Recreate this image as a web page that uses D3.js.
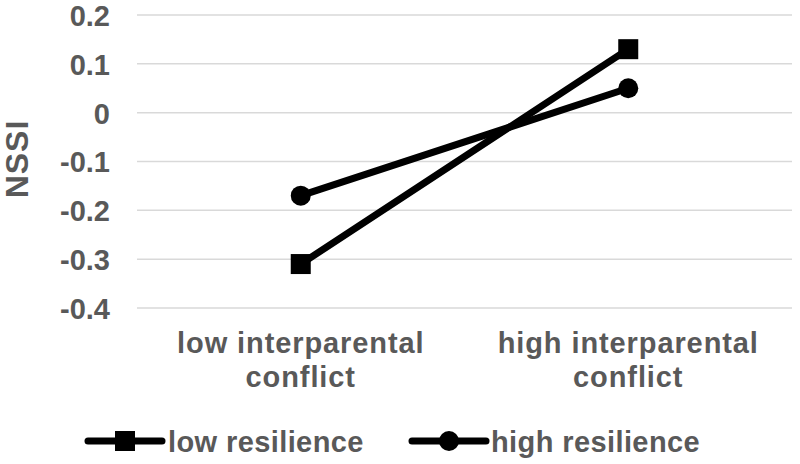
<!DOCTYPE html>
<html><head><meta charset="utf-8">
<script src="https://cdn.jsdelivr.net/npm/d3@7"></script>
<style>body{margin:0;background:#fff}svg{display:block}</style>
</head><body>
<svg id="c" width="800" height="464"></svg>
<script>
const categories = ["low interparental conflict", "high interparental conflict"];
const categoryLines = [["low interparental", "conflict"], ["high interparental", "conflict"]];
const seriesNames = ["low resilience", "high resilience"];
const lowResilience = [-0.31, 0.13];
const highResilience = [-0.17, 0.05];
const yTicks = [-0.4, -0.3, -0.2, -0.1, 0, 0.1, 0.2];
const yTickLabels = ["-0.4", "-0.3", "-0.2", "-0.1", "0", "0.1", "0.2"];

const svg = d3.select("#c");
const font = "'Liberation Sans', Arial, sans-serif";
const grey = "#595959";

const x = d3.scaleBand().domain(categories).range([137, 792]);
const y = d3.scaleLinear().domain([-0.4, 0.2]).range([308, 15]);

// gridlines
svg.append("g").selectAll("line").data(yTicks).join("line")
  .attr("x1", 137).attr("x2", 792)
  .attr("y1", d => y(d)).attr("y2", d => y(d))
  .attr("stroke", "#d9d9d9").attr("stroke-width", 1.5);

// y axis labels
const yAxis = d3.axisLeft(y).tickValues(yTicks).tickFormat((d, i) => yTickLabels[i]).tickSize(0).tickPadding(0);
const ya = svg.append("g").attr("transform", "translate(110,0)").call(yAxis);
ya.select(".domain").remove();
ya.selectAll("text").attr("font-family", font)
  .attr("font-size", 29).attr("font-weight", "bold").attr("fill", grey).attr("dy", "0.36em");

// y title
svg.append("text").attr("transform", "translate(28,159) rotate(-90)")
  .attr("text-anchor", "middle")
  .attr("font-family", font)
  .attr("font-size", 32).attr("font-weight", "bold").attr("fill", grey)
  .attr("letter-spacing", 1).text("NSSI");

// x axis labels
const cx = c => x(c) + x.bandwidth() / 2;
const xg = svg.append("g");
categories.forEach((c, i) => {
  const t = xg.append("text").attr("x", cx(c)).attr("y", 353)
    .attr("text-anchor", "middle").attr("font-family", font)
    .attr("font-size", 29).attr("font-weight", "bold").attr("fill", grey)
    .attr("letter-spacing", 0.9);
  categoryLines[i].forEach((ln, j) => {
    t.append("tspan").attr("x", cx(c)).attr("dy", j === 0 ? 0 : 34).text(ln);
  });
});

const line = d3.line().x((d, i) => cx(categories[i])).y(d => y(d));

const series = [
  {name: seriesNames[0], values: lowResilience, marker: "square"},
  {name: seriesNames[1], values: highResilience, marker: "circle"}
];

function drawMarker(g, type, px, py) {
  if (type === "square") {
    g.append("rect").attr("x", px - 10).attr("y", py - 10).attr("width", 20).attr("height", 20).attr("fill", "#000");
  } else {
    g.append("circle").attr("cx", px).attr("cy", py).attr("r", 10).attr("fill", "#000");
  }
}

series.forEach(s => {
  const g = svg.append("g");
  g.append("path").attr("d", line(s.values)).attr("fill", "none")
    .attr("stroke", "#000").attr("stroke-width", 7).attr("stroke-linecap", "round");
  s.values.forEach((v, i) => drawMarker(g, s.marker, cx(categories[i]), y(v)));
});

// legend
const legendPos = [{lx: 88, tx: 168}, {lx: 412, tx: 491}];
series.forEach((s, i) => {
  const g = svg.append("g");
  const p = legendPos[i];
  g.append("line").attr("x1", p.lx).attr("x2", p.lx + 74).attr("y1", 441).attr("y2", 441)
    .attr("stroke", "#000").attr("stroke-width", 7).attr("stroke-linecap", "round");
  drawMarker(g, s.marker, p.lx + 37, 441);
  g.append("text").attr("x", p.tx).attr("y", 452).attr("font-family", font)
    .attr("font-size", 29).attr("font-weight", "bold").attr("fill", grey)
    .attr("letter-spacing", 0.4).text(s.name);
});
</script>
</body></html>
